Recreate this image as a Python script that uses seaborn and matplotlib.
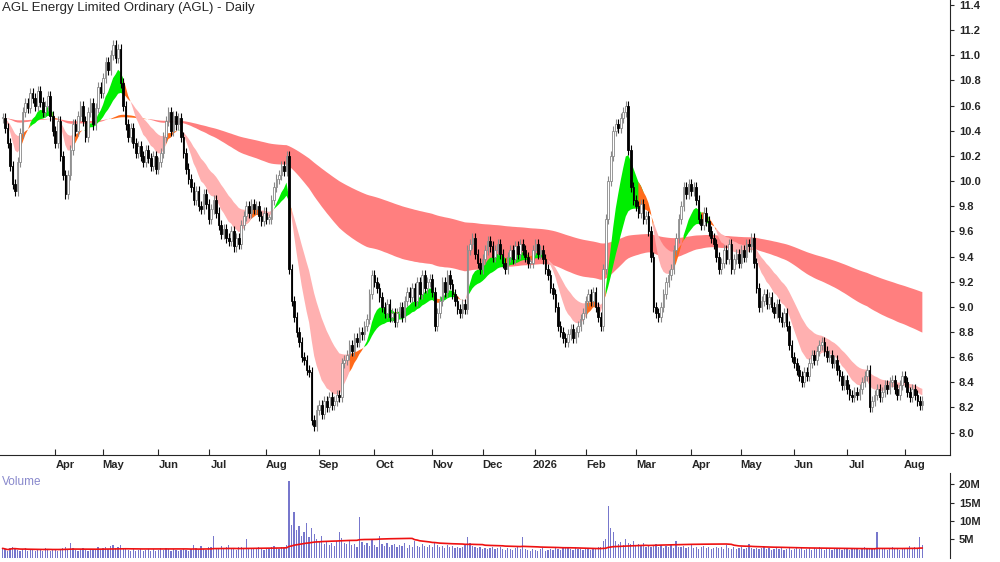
import numpy as np
import pandas as pd
import matplotlib
matplotlib.use("Agg")
import matplotlib.pyplot as plt
import seaborn as sns

closes = [
10.50,10.42,10.30,10.12,9.98,9.92,10.15,10.38,10.55,10.62,
10.58,10.70,10.66,10.60,10.72,10.63,10.55,10.60,10.68,10.52,
10.40,10.30,10.48,10.20,10.05,9.90,10.05,10.25,10.45,10.40,
10.52,10.60,10.48,10.35,10.55,10.62,10.45,10.58,10.75,10.70,
10.82,10.95,10.88,11.00,11.08,10.98,11.05,10.78,10.60,10.45,
10.35,10.42,10.30,10.22,10.28,10.20,10.15,10.25,10.18,10.12,
10.20,10.10,10.15,10.22,10.35,10.48,10.55,10.40,10.52,10.45,
10.50,10.35,10.22,10.10,10.02,9.95,9.85,9.92,9.80,9.78,
9.90,9.82,9.70,9.78,9.85,9.75,9.65,9.58,9.62,9.55,
9.52,9.60,9.48,9.55,9.50,9.65,9.72,9.80,9.75,9.82,
9.78,9.80,9.72,9.68,9.75,9.70,9.70,9.85,9.95,10.02,
10.05,10.12,10.08,10.20,9.30,9.05,8.92,8.80,8.72,8.60,
8.58,8.50,8.48,8.10,8.05,8.18,8.22,8.15,8.25,8.20,
8.28,8.22,8.25,8.30,8.28,8.55,8.58,8.62,8.70,8.65,
8.75,8.72,8.80,8.78,8.85,8.90,9.10,9.25,9.20,9.15,
9.08,9.00,8.95,9.02,8.92,8.95,8.88,8.95,9.00,8.92,
9.05,9.12,9.08,9.15,9.05,9.20,9.10,9.25,9.15,9.20,
9.22,9.12,8.85,8.95,9.05,9.20,9.12,9.25,9.18,9.10,
9.05,8.98,8.95,9.02,8.98,9.45,9.50,9.55,9.42,9.35,
9.30,9.38,9.45,9.52,9.48,9.40,9.45,9.50,9.42,9.35,
9.30,9.40,9.45,9.38,9.48,9.42,9.50,9.45,9.40,9.35,
9.35,9.45,9.50,9.42,9.45,9.38,9.30,9.25,9.15,9.10,
9.00,8.85,8.80,8.75,8.72,8.78,8.82,8.75,8.80,8.85,
8.90,8.95,9.05,9.10,9.05,9.12,9.00,8.92,8.85,9.30,
9.70,10.00,10.20,10.40,10.45,10.42,10.50,10.55,10.60,10.25,
9.95,9.85,9.80,9.75,9.82,9.70,9.72,9.60,9.40,9.00,
8.95,8.92,9.00,9.10,9.20,9.25,9.30,9.45,9.55,9.70,
9.80,9.95,9.90,9.98,9.92,9.95,9.85,9.70,9.65,9.75,
9.68,9.60,9.55,9.50,9.40,9.30,9.35,9.45,9.38,9.50,
9.30,9.38,9.42,9.35,9.45,9.40,9.50,9.48,9.55,9.35,
9.15,9.00,9.05,9.10,9.02,9.08,9.00,8.95,9.02,8.92,
8.88,8.95,8.85,8.70,8.60,8.55,8.50,8.45,8.40,8.48,
8.45,8.55,8.62,8.58,8.65,8.70,8.72,8.65,8.60,8.62,
8.55,8.58,8.50,8.45,8.38,8.42,8.35,8.30,8.28,8.32,
8.30,8.35,8.40,8.45,8.50,8.20,8.25,8.30,8.35,8.28,
8.32,8.38,8.35,8.40,8.42,8.35,8.30,8.38,8.45,8.40,
8.32,8.28,8.35,8.30,8.25,8.22,8.25]

volume_m = [
2.5,2.2,1.8,2.6,3.0,2.4,2.0,1.9,2.2,2.5,
1.8,2.1,2.4,1.7,2.0,2.3,1.9,2.6,2.2,1.8,
2.0,2.4,1.9,2.1,2.7,3.0,2.3,4.0,2.5,2.1,
1.9,2.2,2.6,2.0,1.8,2.3,2.1,2.4,2.9,2.2,
2.5,2.8,2.3,3.1,3.4,2.6,2.9,3.5,2.4,2.2,
2.0,1.9,2.3,1.8,2.1,2.4,1.7,2.0,2.2,1.9,
2.3,1.8,2.0,2.5,2.1,2.7,2.2,1.9,2.4,2.0,
1.8,2.1,2.3,2.0,1.7,2.2,3.5,2.6,2.0,3.2,
2.4,2.1,2.8,3.0,6.0,2.7,2.2,3.1,2.5,2.9,
3.3,2.4,2.6,2.1,2.8,3.0,2.5,5.0,2.7,2.3,
2.6,2.2,2.9,2.4,2.0,2.5,2.3,2.8,3.2,2.6,
2.4,3.0,2.7,3.5,21.0,9.0,12.5,7.5,8.5,6.0,
7.0,9.5,5.5,8.0,6.5,5.0,4.5,6.0,3.8,4.2,
3.5,4.0,3.2,4.6,7.0,5.2,4.0,3.6,4.4,3.3,
3.8,3.0,11.0,4.2,3.5,3.9,3.1,4.8,3.4,3.0,
6.0,3.6,3.2,4.0,2.9,3.3,3.7,2.8,3.5,3.1,
3.9,2.7,3.4,3.0,4.5,3.2,2.9,3.6,3.1,2.8,
3.3,3.0,4.2,3.5,2.8,3.1,2.6,3.4,2.9,3.2,
2.7,3.0,2.5,2.9,3.4,5.5,4.0,3.1,2.8,2.6,
2.9,2.4,2.7,2.3,2.6,3.0,2.2,2.5,2.8,2.4,
2.1,2.6,2.3,2.0,2.5,2.8,2.2,5.5,2.4,2.1,
1.9,2.3,2.0,1.8,2.2,2.5,1.7,2.0,2.4,2.1,
2.6,2.3,2.0,2.8,3.0,2.5,2.2,2.0,2.7,2.4,
2.2,2.0,2.5,2.3,2.1,2.6,2.4,2.8,3.0,4.5,
5.0,14.0,8.0,7.0,4.5,3.8,4.2,3.5,5.0,4.0,
3.6,4.5,3.2,3.8,3.4,4.0,3.0,3.5,2.8,3.2,
3.6,3.0,3.3,2.7,3.1,2.9,3.4,2.6,4.5,3.0,
2.8,3.2,2.5,2.9,3.6,2.7,3.0,2.4,2.8,3.1,
2.6,2.9,2.3,2.7,3.0,2.5,2.8,2.2,3.5,2.6,
2.4,2.8,2.2,2.6,3.0,2.4,2.7,3.8,2.5,2.3,
2.7,2.2,2.5,2.9,2.3,2.6,2.1,2.4,2.8,2.2,
2.5,2.0,2.3,2.7,2.1,2.4,2.9,2.2,2.6,2.0,
2.3,2.7,2.1,2.5,2.2,2.8,2.4,2.0,2.6,2.3,
2.1,2.5,2.2,2.4,2.0,2.6,2.3,2.1,2.7,2.2,
2.4,2.0,2.5,2.8,2.3,2.6,2.2,2.4,7.0,2.5,
2.3,2.6,2.1,2.4,2.8,2.2,2.5,2.0,2.6,2.3,
2.7,3.2,2.4,2.9,2.6,5.5,3.5]

asx_holidays = ["2025-04-18", "2025-04-21", "2025-04-25", "2025-06-09", "2025-12-25",
                "2025-12-26", "2026-01-01", "2026-01-26", "2026-04-03", "2026-04-06",
                "2026-06-08"]

n = len(closes)
vol = np.array(volume_m[:n] + [2.5] * max(0, n - len(volume_m)))
dates = pd.bdate_range("2025-03-03", periods=n, freq="C", holidays=asx_holidays)
df = pd.DataFrame({"close": closes, "vol": vol}, index=dates)
df["open"] = df["close"].shift(1).fillna(df["close"])
df["high"] = df[["open", "close"]].max(axis=1) + 0.04
df["low"] = df[["open", "close"]].min(axis=1) - 0.04
x = np.arange(n)

e = lambda s: df["close"].ewm(span=s, adjust=False).mean().values
s_fast, s_slow = e(10), e(25)
l_fast, l_slow = e(120), e(250)

sns.set_style("white")
plt.rcParams["font.family"] = ["Liberation Sans", "DejaVu Sans"]

fig = plt.figure(figsize=(10, 5.62), dpi=100)
ax = fig.add_axes([0.0, 0.19, 0.95, 0.81])
axv = fig.add_axes([0.0, 0.008, 0.95, 0.15])

GREEN, ORANGE, PINK, SALMON = "#00ee00", "#ff6a1a", "#ffb0b0", "#ff7f7f"

def fill_band(a, b, masks):
    for m, c in masks:
        m2 = m | np.r_[False, m[:-1]]
        ax.fill_between(x, a, b, where=m2, color=c, lw=0, zorder=1)

lf_up = l_fast > l_slow
fill_band(l_fast, l_slow, [(lf_up, ORANGE), (~lf_up, SALMON)])
up = s_fast > s_slow
slow_rise = np.r_[True, np.diff(s_slow) > 0]
fill_band(s_fast, s_slow, [(up & slow_rise, GREEN), (up ^ slow_rise, ORANGE), (~up & ~slow_rise, PINK)])

rising = df["close"].values >= df["open"].values
ax.vlines(x, df["low"], df["high"], color=np.where(rising, "#888888", "black"), lw=0.8, zorder=2)
body_b = df[["open", "close"]].min(axis=1).values
body_h = np.maximum(np.abs(df["close"] - df["open"]).values, 0.012)
ax.bar(x[rising], body_h[rising], bottom=body_b[rising], width=0.65, color="white", edgecolor="#888888", lw=0.6, zorder=3)
ax.bar(x[~rising], body_h[~rising], bottom=body_b[~rising], width=0.65, color="black", edgecolor="black", lw=0.6, zorder=3)

ax.set_xlim(-1, 377)
ax.set_ylim(7.82, 11.44)
ax.yaxis.tick_right()
ax.set_yticks(np.arange(8.0, 11.41, 0.2))
ax.set_yticklabels([f"{v:.1f}" for v in np.arange(8.0, 11.41, 0.2)], fontsize=8, fontweight="bold")
month_start = [i for i in range(1, n) if dates[i].month != dates[i - 1].month]
ax.set_xticks(month_start)
ax.set_xticklabels([])
ax.tick_params(axis="x", length=4, direction="in", bottom=True)
ax.tick_params(axis="y", length=3, right=True)
for i in month_start:
    lab = str(dates[i].year) if dates[i].month == 1 else dates[i].strftime("%b")
    ax.text(i + 4, 7.82 - 0.04, lab, ha="center", va="top", fontsize=8, fontweight="bold")
for sp in ["top", "left"]:
    ax.spines[sp].set_visible(False)
ax.text(0.002, 0.995, "AGL Energy Limited Ordinary (AGL) - Daily", transform=ax.transAxes,
        fontsize=9.5, ha="left", va="top")

axv.bar(x, vol, width=0.5, color="#7777cc", lw=0)
vma = pd.Series(vol).rolling(50, min_periods=1).mean()
sns.lineplot(x=x, y=vma.values, ax=axv, color="#ee1111", lw=1.2)
axv.set_xlim(-1, 377)
axv.set_ylim(0, 23)
axv.yaxis.tick_right()
axv.set_yticks([5, 10, 15, 20])
axv.set_yticklabels(["5M", "10M", "15M", "20M"], fontsize=8, fontweight="bold")
axv.set_xticks([])
axv.tick_params(axis="y", length=3, right=True)
for sp in ["top", "left", "bottom"]:
    axv.spines[sp].set_visible(False)
axv.text(0.002, 0.97, "Volume", transform=axv.transAxes, fontsize=8.5, color="#8888cc", ha="left", va="top")

fig.savefig("out.png", dpi=100)
